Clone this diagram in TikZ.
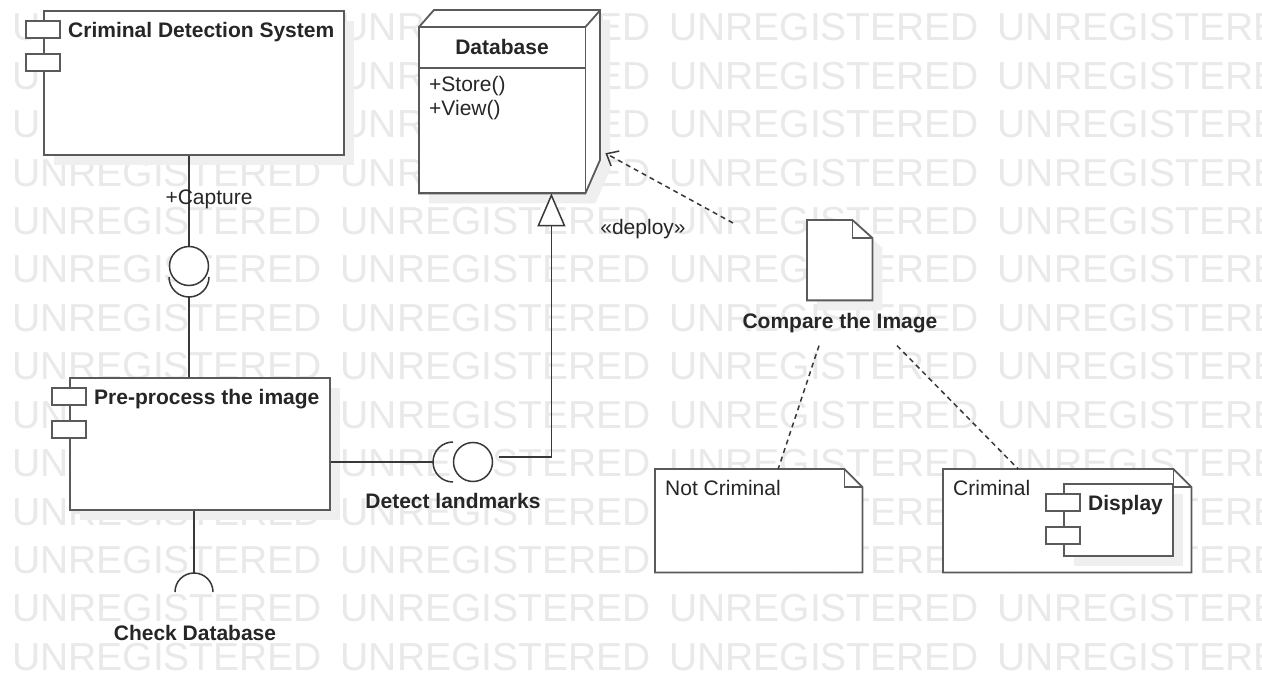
\documentclass[tikz,border=0pt]{standalone}
\usepackage{fontspec}
\setmainfont{Liberation Sans}
\usetikzlibrary{arrows.meta,shadows}

\definecolor{ink}{HTML}{262626}
\definecolor{wireink}{HTML}{383838}
\definecolor{edge}{HTML}{5A5A5A}
\definecolor{wm}{HTML}{E9E9E9}
\definecolor{shade}{HTML}{EFEFEF}

\begin{document}
\begin{tikzpicture}[x=1pt,y=-1pt,
  lbl/.style={inner sep=0pt, text=ink, font=\fontsize{21}{24}\selectfont},
  blbl/.style={inner sep=0pt, text=ink, font=\fontsize{21}{24}\selectfont\bfseries},
  wmtext/.style={inner sep=0pt, text=wm, font=\fontsize{39}{41}\selectfont},
  ubox/.style={draw=edge, line width=1.8pt, fill=white, inner sep=0pt, anchor=north west},
  shadowed/.style={drop shadow={shadow xshift=10pt, shadow yshift=-10pt, fill=shade, opacity=1}},
  outline/.style={draw=edge, line width=1.8pt, fill=white},
  wire/.style={draw=wireink, line width=1.5pt},
  dashwire/.style={wire, dash pattern=on 5pt off 4pt},
  ball/.style={circle, draw=wireink, line width=1.5pt, fill=white, inner sep=0pt, minimum size=39pt},
  iconbox/.style={draw=edge, line width=1.5pt, fill=white},
  compicon/.pic={
    \path[iconbox] (-17,11) rectangle (17,28);
    \path[iconbox] (-17,44) rectangle (17,61);
  }
]
\useasboundingbox (0,0) rectangle (1262,687);
\fill[white] (0,0) rectangle (1262,687);

% repeated background stamp
\begin{scope}
  \clip (0,0) rectangle (1262,687);
  \foreach \r in {0,...,13}
    \foreach \c in {0,...,3}
      \node[wmtext, anchor=base west] (wm-\r-\c) at (12+328.5*\c, 41+48.4*\r) {UNREGISTERED};
\end{scope}

% ---------- Criminal Detection System ----------
\node[ubox, shadowed, minimum width=300pt, minimum height=144pt] (cds) at (43,10) {};
\pic at (cds.north west) {compicon};
\node[blbl, anchor=base west] (cdsname) at (68,38) {Criminal Detection System};

% ---------- Pre-process the image ----------
\node[ubox, shadowed, minimum width=260pt, minimum height=132pt] (pre) at (69,377) {};
\pic at (pre.north west) {compicon};
\node[blbl, anchor=base west] (prename) at (94,404) {Pre-process the image};

% ---------- Database (node with class compartments) ----------
\node[inner sep=0pt, minimum width=166pt, minimum height=166pt, anchor=north west] (db) at (419,27) {};
\path[outline, shadowed] (db.south west) -- (db.north west) -- ++(15,-17) -- ++(166,0)
  -- ++(0,150) -- (db.south east) -- cycle;
\draw[draw=edge, line width=1.8pt] (db.south west) rectangle (db.north east);
\draw[draw=edge, line width=1.8pt] (db.north east) -- ++(15,-17);
\draw[draw=edge, line width=1.5pt] ([yshift=-41pt]db.north west) -- ([yshift=-41pt]db.north east);
\node[blbl, anchor=base] (dbname) at (502,55) {Database};
\node[lbl, anchor=base west] (store) at (429,92) {+Store()};
\node[lbl, anchor=base west] (view) at (429,116) {+View()};
\coordinate (dbport) at ([xshift=-34pt]db.south east);

% ---------- Capture interface ----------
\node[ball] (capball) at (189,266) {};
\coordinate (capsock) at (189,277);
\draw[wire] (capball |- cds.south) -- (capball.north);
\draw[wire] (capsock) ++(-20,0) arc[start angle=180, end angle=360, radius=20pt];
\draw[wire] (capsock) ++(0,20) -- (capsock |- pre.north);
\node[lbl, anchor=base] (capture) at (209,205) {+Capture};

% ---------- Check Database socket ----------
\coordinate (chksock) at (194,592);
\draw[wire] (chksock |- pre.south) -- ([yshift=19pt]chksock);
\draw[wire] ([xshift=-19pt]chksock) arc[start angle=180, end angle=0, radius=19pt];
\node[blbl, anchor=base] (chk) at (195,640) {Check Database};

% ---------- Detect landmarks ----------
\coordinate (detsock) at (453,462);
\node[ball] (detball) at (473,462) {};
\draw[wire] (detsock -| pre.east) -- ([xshift=-20pt]detsock);
\draw[wire] ([yshift=20pt]detsock) arc[start angle=90, end angle=270, radius=20pt];
\coordinate (genstart) at (499,457);
\draw[wire, -{Triangle[open, length=33pt, width=28pt, fill=white]}]
  (genstart) -- (genstart -| dbport) -- (dbport);
\node[blbl, anchor=base] (det) at (453,508) {Detect landmarks};

% ---------- Compare the Image artifact ----------
\node[inner sep=0pt, minimum width=65pt, minimum height=80pt, anchor=north west] (doc) at (807,220) {};
\path[outline, shadowed] (doc.north west) -- ([xshift=-20pt]doc.north east)
  -- ([yshift=-18pt]doc.north east) -- (doc.south east) -- (doc.south west) -- cycle;
\draw[draw=edge, line width=1.5pt] ([xshift=-20pt]doc.north east) -- ([xshift=-20pt,yshift=-18pt]doc.north east)
  -- ([yshift=-18pt]doc.north east);
\node[blbl, anchor=base] (cmp) at (840,328) {Compare the Image};

% deploy dependency
\coordinate (deptail) at (733,223);
\coordinate (deptip) at ([xshift=20pt,yshift=-43pt]db.east);
\draw[dashwire, -{Straight Barb[length=10pt, width=17pt]}] (deptail) -- (deptip);
\node[lbl, anchor=base] (deploy) at (643,235) {«deploy»};

% ---------- Notes ----------
\node[inner sep=0pt, minimum width=207pt, minimum height=103pt, anchor=north west] (notcrim) at (655,469) {};
\path[outline] (notcrim.north west) -- ([xshift=-18pt]notcrim.north east)
  -- ([yshift=-18pt]notcrim.north east) -- (notcrim.south east) -- (notcrim.south west) -- cycle;
\draw[draw=edge, line width=1.5pt] ([xshift=-18pt]notcrim.north east) -- ([xshift=-18pt,yshift=-18pt]notcrim.north east)
  -- ([yshift=-18pt]notcrim.north east);
\node[lbl, anchor=base west] (nclbl) at (665,495) {Not Criminal};

\node[inner sep=0pt, minimum width=248pt, minimum height=103pt, anchor=north west] (crim) at (943,469) {};
\path[outline] (crim.north west) -- ([xshift=-18pt]crim.north east)
  -- ([yshift=-18pt]crim.north east) -- (crim.south east) -- (crim.south west) -- cycle;
\draw[draw=edge, line width=1.5pt] ([xshift=-18pt]crim.north east) -- ([xshift=-18pt,yshift=-18pt]crim.north east)
  -- ([yshift=-18pt]crim.north east);
\node[lbl, anchor=base west] (clbl) at (953,495) {Criminal};

% Display component inside the Criminal note
\node[ubox, shadowed, minimum width=109pt, minimum height=72pt] (disp) at (1063,483) {};
\pic at (disp.north west) {compicon};
\node[blbl, anchor=base west] (displbl) at (1088,510) {Display};

% anchors of the note links
\coordinate (cmpl) at ([xshift=-21pt,yshift=-13pt]cmp.south);
\coordinate (cmpr) at ([xshift=57pt,yshift=-13pt]cmp.south);
\coordinate (ncport) at ([xshift=19.5pt]notcrim.north);
\coordinate (cport) at ([xshift=-49pt]crim.north);
\draw[dashwire] (cmpl) -- (ncport);
\draw[dashwire] (cmpr) -- (cport);
\end{tikzpicture}
\end{document}
